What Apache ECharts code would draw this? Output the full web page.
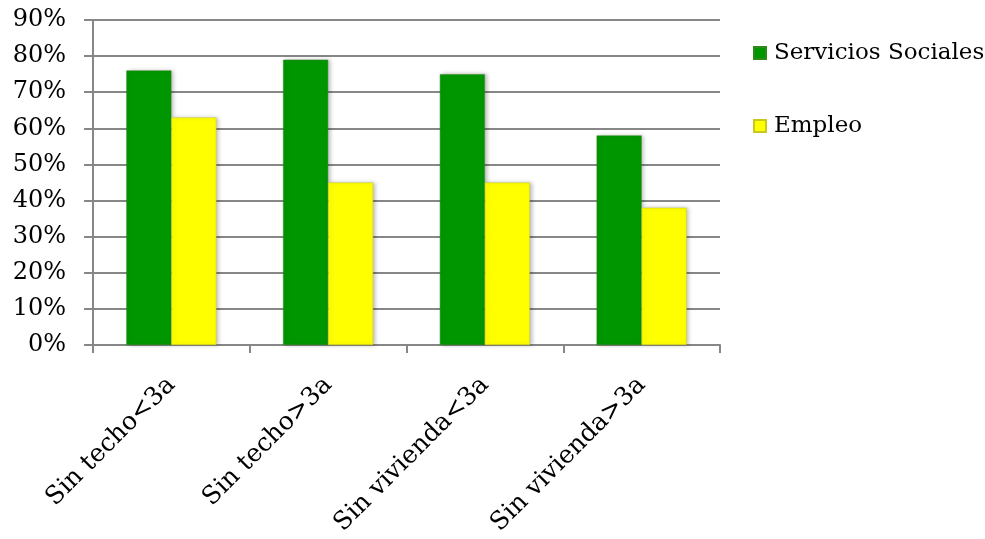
<!DOCTYPE html>
<html>
<head>
<meta charset="utf-8">
<script src="https://cdn.jsdelivr.net/npm/echarts@6/dist/echarts.min.js"></script>
<style>
  html, body { margin: 0; padding: 0; background: #fff; }
  #chart { width: 985px; height: 539px; }
</style>
</head>
<body>
<div id="chart"></div>
<script>
// Categories and series values (percent)
const categories = ['Sin techo<3a', 'Sin techo>3a', 'Sin vivienda<3a', 'Sin vivienda>3a'];
const serviciosSociales = [76, 79, 75, 58];
const empleo = [63, 45, 45, 38];
const yTicks = [0, 10, 20, 30, 40, 50, 60, 70, 80, 90];

const FONT = 'DejaVu Serif';
const gridColor = '#878787';

const chart = echarts.init(document.getElementById('chart'), null, { renderer: 'canvas' });

const barShadow = {
  shadowColor: 'rgba(0,0,0,0.25)',
  shadowBlur: 4,
  shadowOffsetX: 2,
  shadowOffsetY: 0
};

chart.setOption({
  animation: false,
  backgroundColor: '#fff',
  grid: { left: 93, right: 265, top: 20, bottom: 194, containLabel: false },
  legend: {
    orient: 'vertical',
    left: 748,
    top: 36,
    itemWidth: 12,
    itemHeight: 12,
    itemGap: 49,
    icon: 'rect',
    textStyle: { fontFamily: FONT, fontSize: 23, lineHeight: 24, color: '#000', padding: [0, 0, 0, 3] },
    data: ['Servicios Sociales', 'Empleo']
  },
  xAxis: {
    type: 'category',
    data: categories,
    axisLine: { show: true, lineStyle: { color: gridColor, width: 2 } },
    axisTick: { show: true, alignWithLabel: false, length: 8, lineStyle: { color: gridColor, width: 2 } },
    axisLabel: {
      rotate: 45,
      interval: 0,
      margin: 36,
      fontFamily: FONT,
      fontSize: 25,
      color: '#000'
    }
  },
  yAxis: {
    type: 'value',
    min: yTicks[0],
    max: yTicks[yTicks.length - 1],
    interval: 10,
    axisLine: { show: true, lineStyle: { color: gridColor, width: 2 } },
    axisTick: { show: true, length: 9, lineStyle: { color: gridColor, width: 2 } },
    splitLine: { show: true, lineStyle: { color: gridColor, width: 2 } },
    axisLabel: {
      formatter: v => v + '%',
      margin: 27,
      fontFamily: FONT,
      fontSize: 24,
      color: '#000'
    }
  },
  series: [
    {
      name: 'Servicios Sociales',
      type: 'bar',
      data: serviciosSociales,
      barWidth: 45,
      barGap: '0%',
      itemStyle: Object.assign({ color: '#009600', borderColor: '#2f8a1e', borderWidth: 0.5 }, barShadow)
    },
    {
      name: 'Empleo',
      type: 'bar',
      data: empleo,
      barWidth: 45,
      barGap: '0%',
      itemStyle: Object.assign({ color: '#ffff00', borderColor: '#c8c820', borderWidth: 0.5 }, barShadow)
    }
  ]
});
</script>
</body>
</html>
